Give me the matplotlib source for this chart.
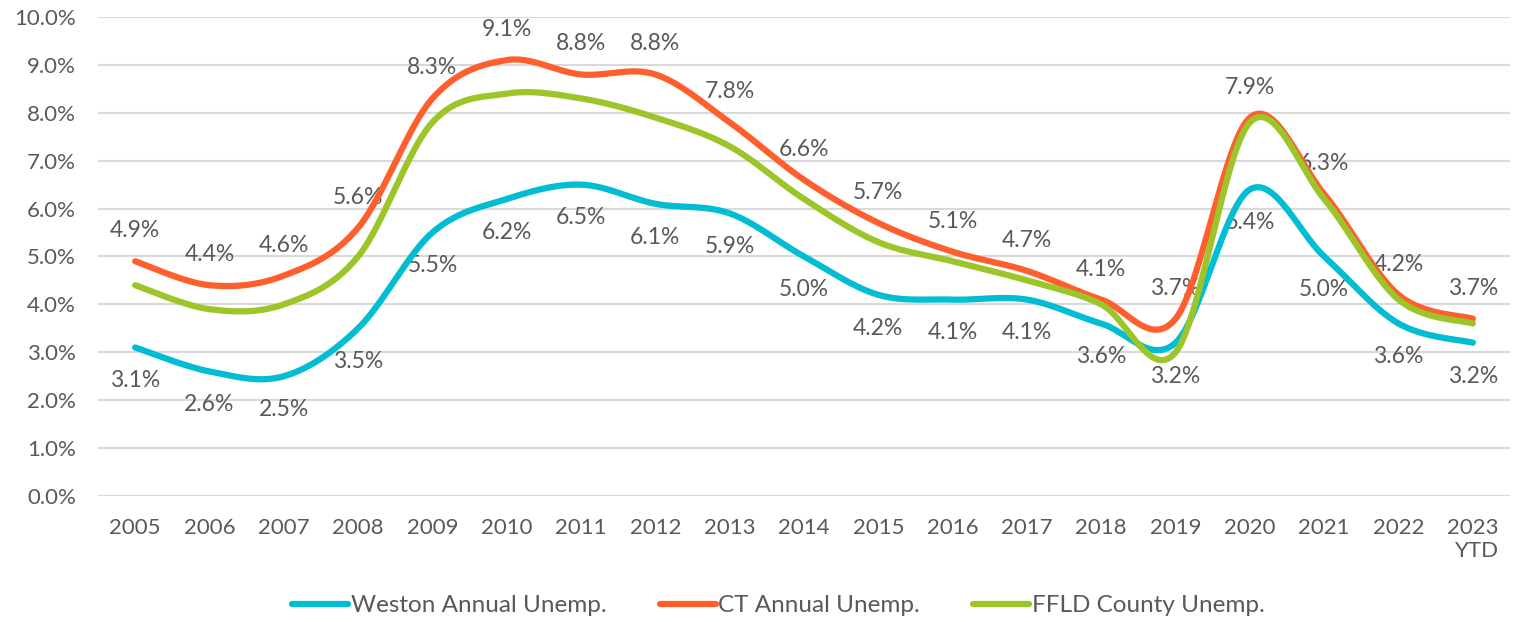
import numpy as np
import matplotlib.pyplot as plt

years = ['2005', '2006', '2007', '2008', '2009', '2010', '2011', '2012', '2013', '2014',
         '2015', '2016', '2017', '2018', '2019', '2020', '2021', '2022', '2023\nYTD']
weston = [3.1, 2.6, 2.5, 3.5, 5.5, 6.2, 6.5, 6.1, 5.9, 5.0, 4.2, 4.1, 4.1, 3.6, 3.2, 6.4, 5.0, 3.6, 3.2]
ct = [4.9, 4.4, 4.6, 5.6, 8.3, 9.1, 8.8, 8.8, 7.8, 6.6, 5.7, 5.1, 4.7, 4.1, 3.7, 7.9, 6.3, 4.2, 3.7]
ffld = [4.4, 3.9, 4.0, 5.0, 7.8, 8.4, 8.3, 7.9, 7.3, 6.2, 5.3, 4.9, 4.5, 4.0, 3.0, 7.8, 6.2, 4.1, 3.6]

names = ['Weston Annual Unemp.', 'CT Annual Unemp.', 'FFLD County Unemp.']
colors = ['#00BDD3', '#FF5F2D', '#9BC528']

plt.rcParams['font.family'] = ['Lato', 'DejaVu Sans']
txt = '#595959'


def smooth(y, n=30):
    # catmull-rom style bezier, like excel's smoothed line
    x = np.arange(len(y), dtype=float)
    y = np.asarray(y, dtype=float)
    xs, ys = [], []
    t = np.linspace(0, 1, n)
    for i in range(len(y) - 1):
        i0 = max(i - 1, 0)
        i3 = min(i + 2, len(y) - 1)
        p0, p3 = np.array([x[i], y[i]]), np.array([x[i + 1], y[i + 1]])
        p1 = p0 + (np.array([x[i + 1], y[i + 1]]) - np.array([x[i0], y[i0]])) / 6
        p2 = p3 - (np.array([x[i3], y[i3]]) - np.array([x[i], y[i]])) / 6
        pts = ((1 - t) ** 3)[:, None] * p0 + (3 * (1 - t) ** 2 * t)[:, None] * p1 \
            + (3 * (1 - t) * t ** 2)[:, None] * p2 + (t ** 3)[:, None] * p3
        xs.extend(pts[:, 0])
        ys.extend(pts[:, 1])
    return np.array(xs), np.array(ys)


fig = plt.figure(figsize=(15.17, 6.22), dpi=100)
ax = fig.add_axes([0.0646, 0.2026, 0.9308, 0.7701])

for vals, c, name in zip([weston, ct, ffld], colors, names):
    sx, sy = smooth(vals)
    ax.plot(sx, sy, color=c, lw=4.5, label=name, solid_capstyle='round', zorder=3)

for i, v in enumerate(ct):
    ax.annotate(f'{v:.1f}%', (i, v), xytext=(0, 22), textcoords='offset points',
                ha='center', va='center', fontsize=16.5, color=txt, zorder=2)
for i, v in enumerate(weston):
    ax.annotate(f'{v:.1f}%', (i, v), xytext=(0, -24), textcoords='offset points',
                ha='center', va='center', fontsize=16.5, color=txt, zorder=2)

ax.set_xlim(-0.5, len(years) - 0.5)
ax.set_ylim(0, 10)
ax.set_yticks(np.arange(0, 10.1, 1))
ax.set_yticklabels([f'{v:.1f}%' for v in np.arange(0, 10.1, 1)])
ax.set_xticks(range(len(years)))
ax.set_xticklabels(years, multialignment='right')
ax.tick_params(axis='y', length=0, pad=16, labelsize=16, labelcolor=txt)
ax.tick_params(axis='x', length=0, pad=16, labelsize=16, labelcolor=txt)
ax.grid(axis='y', color='#D9D9D9', lw=1.5)
ax.set_axisbelow(True)
for s in ax.spines.values():
    s.set_visible(False)

fig.legend(loc='center', bbox_to_anchor=(0.513, 0.026), ncol=3, frameon=False,
           fontsize=17.5, labelcolor=txt, handlelength=2.3, handletextpad=0.1,
           columnspacing=2.2)

fig.savefig('out.png', dpi=100)
